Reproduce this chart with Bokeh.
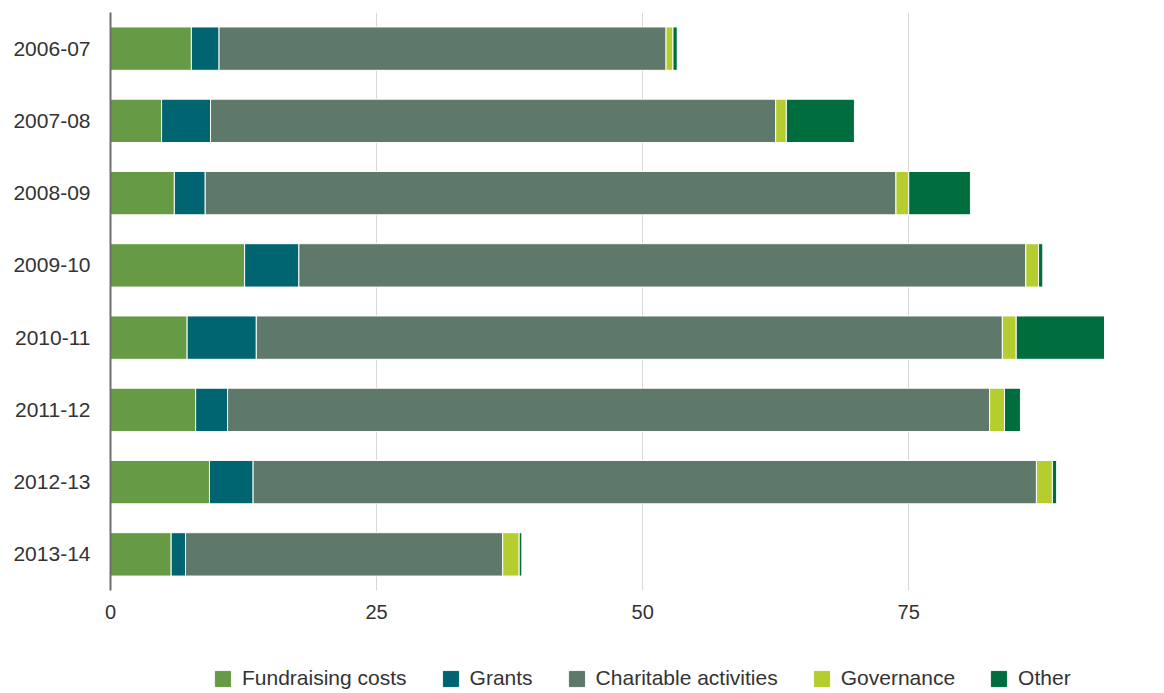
from bokeh.plotting import figure
from bokeh.layouts import column
from bokeh.models import (ColumnDataSource, FactorRange, Range1d, FixedTicker,
                          Legend, LegendItem)
from bokeh.embed import file_html
from bokeh.resources import INLINE

years = ["2006-07", "2007-08", "2008-09", "2009-10", "2010-11", "2011-12", "2012-13", "2013-14"]
fundraising = [7.6, 4.8, 6.0, 12.6, 7.2, 8.0, 9.3, 5.7]
grants = [2.6, 4.6, 2.9, 5.1, 6.5, 3.0, 4.1, 1.35]
charitable = [42.0, 53.1, 64.9, 68.3, 70.1, 71.6, 73.6, 29.8]
governance = [0.65, 1.0, 1.2, 1.2, 1.3, 1.4, 1.5, 1.55]
other = [0.4, 6.4, 5.8, 0.4, 8.3, 1.5, 0.4, 0.25]

series = ["fundraising", "grants", "charitable", "governance", "other"]
labels = ["Fundraising costs", "Grants", "Charitable activities", "Governance", "Other"]
colors = ["#669a45", "#006570", "#5e7869", "#b5cd2f", "#006d3f"]
x_ticks = [0, 25, 50, 75]

source = ColumnDataSource(dict(years=years, fundraising=fundraising, grants=grants,
                               charitable=charitable, governance=governance, other=other))

FONT = "Liberation Sans"

p = figure(y_range=FactorRange(*list(reversed(years)), range_padding=0),
           x_range=Range1d(0, 98),
           frame_width=1043, frame_height=578,
           output_backend="svg", toolbar_location=None,
           min_border_left=110, min_border_top=12, min_border_right=3, min_border_bottom=45)

renderers = p.hbar_stack(series, y="years", height=0.6, color=colors, source=source,
                         line_color="white", line_width=1)

p.outline_line_color = None
p.ygrid.grid_line_color = None
p.xgrid.grid_line_color = "#d8d8d8"
p.xgrid.grid_line_width = 1
p.xaxis.ticker = FixedTicker(ticks=x_ticks)
p.xaxis.axis_line_color = None
p.xaxis.major_tick_line_color = None
p.xaxis.minor_tick_line_color = None
p.xaxis.major_tick_out = 0
p.xaxis.major_label_standoff = 14
p.xaxis.major_label_text_font = FONT
p.xaxis.major_label_text_font_size = "20px"
p.xaxis.major_label_text_color = "#333333"

p.yaxis.axis_line_color = "#6e6e6e"
p.yaxis.axis_line_width = 2
p.yaxis.major_tick_line_color = None
p.yaxis.minor_tick_line_color = None
p.yaxis.major_tick_out = 0
p.yaxis.major_label_standoff = 20
p.yaxis.major_label_text_font = FONT
p.yaxis.major_label_text_font_size = "21px"
p.yaxis.major_label_text_color = "#333333"

# Legend strip below the chart (its frame is aligned with the chart frame)
lg = figure(width=1156, height=58, x_range=Range1d(0, 1), y_range=Range1d(0, 1),
            output_backend="svg", toolbar_location=None,
            x_axis_type=None, y_axis_type=None,
            min_border_left=110, min_border_right=3, min_border_top=0, min_border_bottom=0)
lg.outline_line_color = None
lg.xgrid.visible = False
lg.ygrid.visible = False
offscreen = ColumnDataSource(dict(x=[-10], y=[-10]))
dummies = [lg.rect(x="x", y="y", width=1, height=1, fill_color=c, line_color=c, source=offscreen)
           for c in colors]

legend = Legend(items=[LegendItem(label=l, renderers=[r]) for l, r in zip(labels, dummies)],
                orientation="horizontal", location=(103, 3),
                glyph_width=19, glyph_height=19, label_standoff=10, spacing=34,
                padding=0, margin=0, border_line_color=None, background_fill_alpha=0,
                label_text_font=FONT, label_text_font_size="21px",
                label_text_color="#333333")
lg.add_layout(legend, "center")

layout = column(p, lg, spacing=0)
open("out.html", "w").write(file_html(layout, INLINE))
